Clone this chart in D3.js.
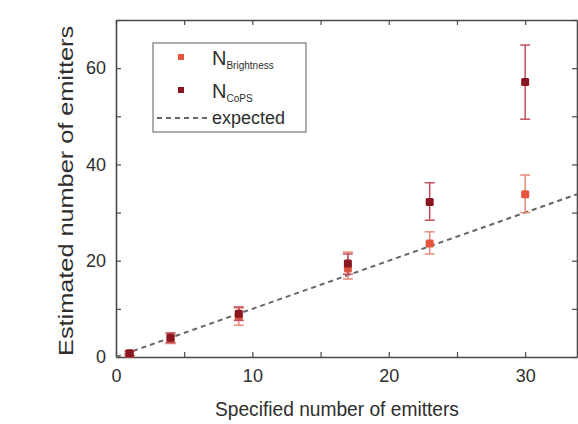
<!DOCTYPE html>
<html>
<head>
<meta charset="utf-8">
<script src="https://cdn.jsdelivr.net/npm/d3@7"></script>
<style>
  body { margin: 0; background: #fff; }
  svg { font-family: "Liberation Sans", Arial, sans-serif; }
</style>
</head>
<body>
<svg id="chart" width="578" height="424"></svg>
<script>
// specified number of emitters
const specified = [1, 4, 9, 17, 23, 30];
// N_Brightness estimate and error bar ends
const brightness = [0.7, 3.8, 8.4, 18.4, 23.6, 33.8];
const brightLow = [0.2, 2.8, 6.6, 16.2, 21.4, 30.0];
const brightHigh = [1.2, 4.8, 10.2, 21.8, 26.0, 37.8];
// N_CoPS estimate and error bar ends
const cops = [0.8, 4.0, 9.0, 19.4, 32.2, 57.1];
const copsLow = [0.3, 3.0, 7.6, 17.2, 28.4, 49.4];
const copsHigh = [1.3, 5.0, 10.4, 21.4, 36.2, 64.8];
const expectedLine = [0, 34];

const xTicks = [0, 10, 20, 30];
const yTicks = [0, 20, 40, 60];

const margin = { top: 20, left: 116, bottom: 67, right: 1 }
const svgWidth = 578, svgHeight = 424;
const w = svgWidth - margin.left - margin.right;
const h = svgHeight - margin.top - margin.bottom;

const svg = d3.select("#chart");
const g = svg.append("g").attr("transform", `translate(${margin.left},${margin.top})`);

//SCALES
const x = d3.scaleLinear().domain([0, 33.8]).range([0, w]);
const y = d3.scaleLinear().domain([0, 70]).range([h, 0]);

const axisColor = "#4a4a4a";
const textColor = "#2e2e2e";

//AXES (ticks inside, frame all around)
function styleAxis(sel) {
  sel.select(".domain").attr("stroke", axisColor).attr("stroke-width", 1.6);
  sel.selectAll(".tick line").attr("stroke", axisColor).attr("stroke-width", 1.2);
  sel.selectAll(".tick text").attr("fill", textColor).style("font-size", "18px");
}
g.append("g").attr("transform", `translate(0,${h})`)
  .call(d3.axisBottom(x).tickValues(d3.range(0, 34, 5)).tickSizeInner(-5).tickSizeOuter(0)
    .tickFormat(d => xTicks.includes(d) ? d : "").tickPadding(12))
  .call(styleAxis);
g.append("g")
  .call(d3.axisLeft(y).tickValues(d3.range(0, 71, 10)).tickSizeInner(-5).tickSizeOuter(0)
    .tickFormat(d => yTicks.includes(d) ? d : "").tickPadding(10))
  .call(styleAxis);
g.append("g")
  .call(d3.axisTop(x).tickValues(d3.range(0, 34, 5)).tickSizeInner(-5).tickSizeOuter(0).tickFormat(""))
  .call(styleAxis);
g.append("g").attr("transform", `translate(${w},0)`)
  .call(d3.axisRight(y).tickValues(d3.range(0, 71, 10)).tickSizeInner(-5).tickSizeOuter(0).tickFormat(""))
  .call(styleAxis);

//EXPECTED LINE y = x
g.append("line")
  .attr("x1", x(expectedLine[0])).attr("y1", y(expectedLine[0]))
  .attr("x2", x(expectedLine[1])).attr("y2", y(expectedLine[1]))
  .attr("stroke", "#666").attr("stroke-width", 2).attr("stroke-dasharray", "5,4");

//ERROR BARS + MARKERS
const series = [
  { vals: brightness, lo: brightLow, hi: brightHigh, color: "#e4553c", bar: "#e98a78" },
  { vals: cops, lo: copsLow, hi: copsHigh, color: "#8a1620", bar: "#c0505a" }
];
series.forEach(s => {
  const sg = g.append("g");
  specified.forEach((sx, i) => {
    const cx = x(sx);
    sg.append("line").attr("x1", cx).attr("x2", cx)
      .attr("y1", y(s.lo[i])).attr("y2", y(s.hi[i]))
      .attr("stroke", s.bar).attr("stroke-width", 1.5);
    [s.lo[i], s.hi[i]].forEach(v => {
      sg.append("line").attr("x1", cx - 5).attr("x2", cx + 5)
        .attr("y1", y(v)).attr("y2", y(v))
        .attr("stroke", s.bar).attr("stroke-width", 1.5);
    });
    sg.append("rect").attr("x", cx - 4).attr("y", y(s.vals[i]) - 4)
      .attr("width", 8).attr("height", 8).attr("rx", 1.5)
      .attr("fill", s.color);
  });
});

//AXIS TITLES
svg.append("text")
  .attr("x", margin.left + x(16.2)).attr("y", 416)
  .attr("text-anchor", "middle").attr("fill", textColor)
  .style("font-size", "20px")
  .attr("textLength", 244).attr("lengthAdjust", "spacingAndGlyphs")
  .text("Specified number of emitters");
svg.append("text")
  .attr("transform", `translate(73,${margin.top + y(34.5)}) rotate(-90)`)
  .attr("text-anchor", "middle").attr("fill", textColor)
  .style("font-size", "20px")
  .attr("textLength", 330).attr("lengthAdjust", "spacingAndGlyphs")
  .text("Estimated number of emitters");

//LEGEND
const legend = svg.append("g").attr("transform", "translate(153,43)");
legend.append("rect").attr("width", 153).attr("height", 89)
  .attr("fill", "#fff").attr("stroke", "#777").attr("stroke-width", 1.2);
const legendItems = [
  { sub: "Brightness", color: "#e4553c" },
  { sub: "CoPS", color: "#8a1620" }
];
legendItems.forEach((d, i) => {
  const ly = 14 + i * 33;
  legend.append("rect").attr("x", 25).attr("y", ly - 3).attr("width", 6).attr("height", 6)
    .attr("fill", d.color);
  const t = legend.append("text").attr("x", 59).attr("y", ly + 8)
    .attr("fill", textColor).style("font-size", "20px");
  t.append("tspan").text("N");
  t.append("tspan").attr("dy", 4).style("font-size", "10px").text(d.sub);
});
legend.append("line").attr("x1", 4).attr("x2", 56).attr("y1", 75).attr("y2", 75)
  .attr("stroke", "#666").attr("stroke-width", 2).attr("stroke-dasharray", "5,4");
legend.append("text").attr("x", 59).attr("y", 81)
  .attr("fill", textColor).style("font-size", "18px").text("expected");
</script>
</body>
</html>
